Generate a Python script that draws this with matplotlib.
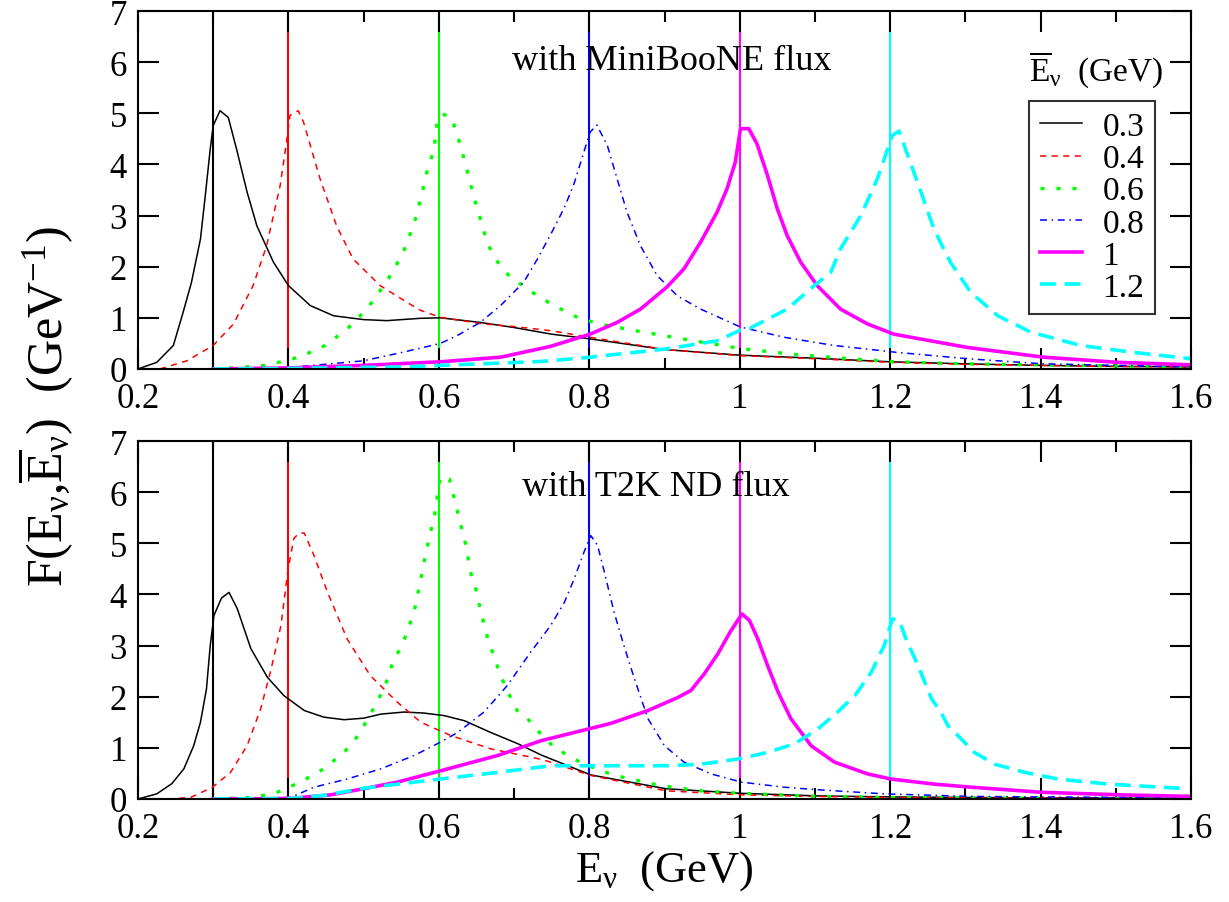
import numpy as np
import matplotlib
matplotlib.use('Agg')
import matplotlib.pyplot as plt
from matplotlib.ticker import MultipleLocator, FormatStrFormatter

plt.rcParams['font.family'] = ['Liberation Serif', 'DejaVu Serif']
plt.rcParams['mathtext.fontset'] = 'custom'
plt.rcParams['mathtext.rm'] = 'Liberation Serif'
plt.rcParams['mathtext.it'] = 'Liberation Serif:italic'

# mean energies (GeV) and legend labels
ebar = [0.3, 0.4, 0.6, 0.8, 1.0, 1.2]
labels = ['0.3', '0.4', '0.6', '0.8', '1', '1.2']

# ---- MiniBooNE flux (top panel) ----
mb_e03 = [0.20, 0.225, 0.247, 0.260, 0.271, 0.283, 0.289, 0.296, 0.300, 0.309, 0.320, 0.331, 0.345, 0.358, 0.380,
          0.400, 0.429, 0.460, 0.500, 0.531, 0.575, 0.602, 0.655, 0.700, 0.750, 0.800, 0.900, 1.000, 1.100, 1.200,
          1.300, 1.400, 1.500, 1.600]
mb_f03 = [0.00, 0.13, 0.46, 1.11, 1.69, 2.54, 3.33, 4.30, 4.76, 5.05, 4.92, 4.30, 3.46, 2.80, 2.09,
          1.63, 1.24, 1.04, 0.965, 0.945, 0.99, 1.00, 0.91, 0.81, 0.68, 0.59, 0.38, 0.27, 0.21, 0.14,
          0.10, 0.07, 0.05, 0.04]

mb_e04 = [0.229, 0.265, 0.300, 0.327, 0.353, 0.371, 0.389, 0.398, 0.402, 0.413, 0.420, 0.442, 0.464, 0.486, 0.522,
          0.558, 0.575, 0.602, 0.659, 0.700, 0.748, 0.801, 0.901, 1.00, 1.10, 1.20, 1.30, 1.40, 1.50, 1.60]
mb_f04 = [0.00, 0.16, 0.46, 0.88, 1.63, 2.41, 3.59, 4.50, 4.96, 5.05, 4.83, 3.72, 2.80, 2.15, 1.63,
          1.30, 1.15, 1.01, 0.88, 0.83, 0.75, 0.62, 0.38, 0.26, 0.20, 0.13, 0.09, 0.07, 0.05, 0.04]

mb_e06 = [0.300, 0.336, 0.369, 0.402, 0.419, 0.449, 0.478, 0.502, 0.513, 0.533, 0.551, 0.558, 0.569, 0.578, 0.586,
          0.593, 0.597, 0.604, 0.617, 0.628, 0.637, 0.646, 0.655, 0.664, 0.675, 0.695, 0.715, 0.731, 0.753, 0.788,
          0.824, 0.872, 0.939, 1.001, 1.068, 1.121, 1.147, 1.205, 1.303, 1.40, 1.50, 1.60]
mb_f06 = [0.00, 0.03, 0.07, 0.18, 0.26, 0.46, 0.78, 1.14, 1.34, 1.77, 2.23, 2.48, 2.94, 3.46, 3.98,
          4.24, 4.76, 4.99, 4.92, 4.40, 3.91, 3.39, 2.94, 2.48, 2.15, 1.79, 1.60, 1.43, 1.24, 0.98,
          0.85, 0.72, 0.55, 0.40, 0.29, 0.23, 0.20, 0.14, 0.10, 0.08, 0.06, 0.05]

mb_e08 = [0.300, 0.400, 0.433, 0.500, 0.553, 0.602, 0.624, 0.655, 0.682, 0.713, 0.731, 0.750, 0.766, 0.779, 0.790,
          0.801, 0.810, 0.824, 0.837, 0.850, 0.868, 0.890, 0.917, 0.948, 1.001, 1.059, 1.125, 1.205, 1.303, 1.404,
          1.502, 1.600]
mb_f08 = [0.00, 0.03, 0.07, 0.16, 0.33, 0.50, 0.65, 0.91, 1.24, 1.70, 2.15, 2.67, 3.13, 3.59, 4.11,
          4.63, 4.77, 4.37, 3.72, 3.07, 2.41, 1.83, 1.43, 1.17, 0.82, 0.62, 0.46, 0.33, 0.20, 0.10,
          0.07, 0.04]

mb_e10 = [0.300, 0.400, 0.500, 0.602, 0.682, 0.748, 0.801, 0.837, 0.868, 0.903, 0.926, 0.948, 0.970, 0.983, 0.994,
          1.001, 1.012, 1.023, 1.037, 1.050, 1.063, 1.081, 1.103, 1.134, 1.170, 1.205, 1.303, 1.404, 1.502, 1.600]
mb_f10 = [0.00, 0.02, 0.07, 0.14, 0.23, 0.44, 0.68, 0.91, 1.17, 1.60, 1.96, 2.48, 3.07, 3.52, 4.04,
          4.70, 4.70, 4.40, 3.78, 3.13, 2.61, 2.09, 1.63, 1.17, 0.88, 0.68, 0.42, 0.23, 0.13, 0.08]

mb_e12 = [0.300, 0.400, 0.500, 0.553, 0.602, 0.726, 0.748, 0.801, 0.901, 0.970, 1.001, 1.014, 1.063, 1.099, 1.121,
          1.134, 1.161, 1.183, 1.203, 1.212, 1.225, 1.241, 1.258, 1.280, 1.307, 1.343, 1.387, 1.453, 1.520, 1.600]
mb_f12 = [0.00, 0.01, 0.03, 0.04, 0.07, 0.14, 0.16, 0.23, 0.39, 0.55, 0.76, 0.80, 1.17, 1.63, 1.89,
          2.35, 3.00, 3.72, 4.57, 4.65, 4.11, 3.46, 2.74, 2.09, 1.50, 1.04, 0.72, 0.46, 0.33, 0.20]

# ---- T2K ND flux (bottom panel) ----
t2k_e03 = [0.200, 0.225, 0.245, 0.261, 0.274, 0.283, 0.291, 0.296, 0.301, 0.311, 0.321, 0.332, 0.350, 0.372, 0.394,
           0.421, 0.447, 0.474, 0.500, 0.523, 0.554, 0.580, 0.607, 0.634, 0.669, 0.705, 0.736, 0.802, 0.902, 1.002,
           1.104, 1.20, 1.30, 1.40, 1.50, 1.60]
t2k_f03 = [0.00, 0.10, 0.30, 0.59, 1.04, 1.50, 2.15, 3.00, 3.59, 3.93, 4.04, 3.72, 2.94, 2.38, 2.02,
           1.73, 1.60, 1.55, 1.58, 1.66, 1.70, 1.68, 1.63, 1.53, 1.30, 1.08, 0.86, 0.47, 0.20, 0.11,
           0.06, 0.04, 0.03, 0.02, 0.02, 0.01]

t2k_e04 = [0.239, 0.270, 0.299, 0.323, 0.345, 0.363, 0.376, 0.390, 0.399, 0.407, 0.414, 0.421, 0.434, 0.452, 0.478,
           0.509, 0.545, 0.576, 0.616, 0.669, 0.722, 0.740, 0.802, 0.902, 1.002, 1.10, 1.20, 1.30, 1.40, 1.50, 1.60]
t2k_f04 = [0.00, 0.03, 0.23, 0.52, 1.04, 1.76, 2.48, 3.39, 4.44, 5.09, 5.20, 5.20, 4.76, 4.04, 3.13,
           2.41, 1.89, 1.50, 1.24, 0.98, 0.82, 0.76, 0.46, 0.16, 0.08, 0.05, 0.03, 0.02, 0.02, 0.01, 0.01]

t2k_e06 = [0.300, 0.354, 0.385, 0.416, 0.447, 0.474, 0.496, 0.505, 0.518, 0.532, 0.540, 0.549, 0.556, 0.567, 0.576,
           0.585, 0.594, 0.602, 0.614, 0.627, 0.636, 0.642, 0.649, 0.656, 0.665, 0.673, 0.682, 0.696, 0.705, 0.718,
           0.729, 0.740, 0.753, 0.784, 0.815, 0.846, 0.895, 0.948, 1.002, 1.104, 1.20, 1.30, 1.40, 1.50, 1.60]
t2k_f06 = [0.00, 0.03, 0.13, 0.33, 0.59, 0.91, 1.30, 1.57, 1.89, 2.35, 2.74, 2.94, 3.20, 3.65, 4.31,
           4.96, 5.54, 6.30, 6.26, 5.48, 4.96, 4.44, 4.11, 3.65, 3.13, 2.80, 2.41, 1.96, 1.70, 1.57,
           1.37, 1.21, 1.01, 0.75, 0.55, 0.42, 0.26, 0.16, 0.11, 0.05, 0.03, 0.02, 0.02, 0.01, 0.01]

t2k_e08 = [0.300, 0.403, 0.434, 0.478, 0.523, 0.567, 0.602, 0.625, 0.660, 0.691, 0.722, 0.749, 0.767, 0.780, 0.793,
           0.802, 0.811, 0.820, 0.833, 0.846, 0.860, 0.878, 0.900, 0.926, 0.962, 1.002, 1.059, 1.104, 1.192, 1.308,
           1.40, 1.50, 1.60]
t2k_f08 = [0.00, 0.03, 0.23, 0.39, 0.59, 0.85, 1.11, 1.30, 1.70, 2.22, 2.87, 3.40, 3.85, 4.31, 4.83,
           5.15, 4.96, 4.44, 3.65, 3.00, 2.35, 1.57, 1.04, 0.72, 0.49, 0.33, 0.23, 0.18, 0.10, 0.05,
           0.04, 0.03, 0.03]

t2k_e10 = [0.300, 0.403, 0.456, 0.500, 0.545, 0.602, 0.678, 0.736, 0.802, 0.829, 0.878, 0.917, 0.935, 0.953, 0.971,
           0.987, 1.003, 1.013, 1.024, 1.037, 1.051, 1.068, 1.095, 1.126, 1.170, 1.201, 1.259, 1.308, 1.402, 1.508,
           1.601]
t2k_f10 = [0.00, 0.01, 0.08, 0.20, 0.33, 0.55, 0.85, 1.14, 1.38, 1.48, 1.73, 1.98, 2.12, 2.45, 2.84,
           3.26, 3.62, 3.49, 3.13, 2.61, 2.09, 1.57, 1.04, 0.72, 0.49, 0.39, 0.29, 0.23, 0.13, 0.08,
           0.05]

t2k_e12 = [0.300, 0.403, 0.447, 0.500, 0.545, 0.602, 0.678, 0.749, 0.838, 0.904, 0.948, 0.997, 1.037, 1.073, 1.104,
           1.130, 1.153, 1.175, 1.192, 1.203, 1.212, 1.221, 1.237, 1.255, 1.268, 1.277, 1.286, 1.312, 1.339, 1.379,
           1.423, 1.490, 1.596]
t2k_f12 = [0.00, 0.01, 0.07, 0.21, 0.29, 0.39, 0.52, 0.65, 0.65, 0.65, 0.68, 0.78, 0.91, 1.08, 1.37,
           1.70, 2.02, 2.48, 3.00, 3.52, 3.49, 3.13, 2.61, 1.96, 1.68, 1.43, 1.30, 0.91, 0.68, 0.52,
           0.39, 0.29, 0.20]

mb_curves = [(mb_e03, mb_f03), (mb_e04, mb_f04), (mb_e06, mb_f06),
             (mb_e08, mb_f08), (mb_e10, mb_f10), (mb_e12, mb_f12)]
t2k_curves = [(t2k_e03, t2k_f03), (t2k_e04, t2k_f04), (t2k_e06, t2k_f06),
              (t2k_e08, t2k_f08), (t2k_e10, t2k_f10), (t2k_e12, t2k_f12)]

colors = ['#000000', '#ff0000', '#00ff00', '#0000ff', '#ff00ff', '#00ffff']
styles = [
    dict(lw=1.1, ls='-'),
    dict(lw=1.1, dashes=(4.0, 3.6)),
    dict(lw=2.4, dashes=(1.2, 3.6), dash_capstyle='butt'),
    dict(lw=1.1, dashes=(4.6, 3.0, 1.0, 3.0)),
    dict(lw=2.6, ls='-'),
    dict(lw=2.6, dashes=(4.4, 2.4)),
]

fig = plt.figure(figsize=(12.29, 9.03), dpi=100)
ax_top = fig.add_axes([0.1123, 0.5903, 0.8568, 0.3964])
ax_bot = fig.add_axes([0.1123, 0.1141, 0.8568, 0.3964])

for ax, curves in [(ax_top, mb_curves), (ax_bot, t2k_curves)]:
    for eb, c in zip(ebar, colors):
        ax.axvline(eb, color=c, lw=1.5, zorder=1)
    for (e, f), c, st, lab in zip(curves, colors, styles, labels):
        ax.plot(e, f, color=c, label=lab, zorder=2, **st)
    ax.set_xlim(0.2, 1.6)
    ax.set_ylim(0, 7)
    ax.xaxis.set_major_locator(MultipleLocator(0.2))
    ax.xaxis.set_minor_locator(MultipleLocator(0.1))
    ax.yaxis.set_major_locator(MultipleLocator(1))
    ax.xaxis.set_major_formatter(FormatStrFormatter('%g'))
    ax.tick_params(which='both', direction='in', top=True, right=True, width=1.5, labelsize=25)
    ax.tick_params(axis='x', which='major', pad=9.5)
    ax.tick_params(axis='y', which='major', pad=8)
    ax.tick_params(which='major', length=15)
    ax.tick_params(which='minor', length=8)
    for sp in ax.spines.values():
        sp.set_linewidth(1.5)

ax_top.text(0.909, 6.03, 'with MiniBooNE flux', fontsize=26, ha='center', va='center')
ax_bot.text(0.889, 6.12, 'with T2K ND flux', fontsize=26, ha='center', va='center')

leg = ax_top.legend(loc='upper left', bbox_to_anchor=(0.846, 0.749), fontsize=24, frameon=True, fancybox=False,
                    handlelength=1.26, handletextpad=0.63, labelspacing=0.05, borderpad=0.32, borderaxespad=0)
leg.get_frame().set_edgecolor('black')
leg.get_frame().set_linewidth(1.5)
ax_top.text(1.474, 5.87, r'$\overline{\mathrm{E}}_{\mathrm{\nu}}$  (GeV)', fontsize=24, ha='center', va='center')

ax_bot.set_xlabel(r'E$_{\mathrm{\nu}}$  (GeV)', fontsize=32, labelpad=2)
fig.text(0.037, 0.55, r'F(E$_{\mathrm{\nu}}$,$\overline{\mathrm{E}}_{\mathrm{\nu}}$)  (GeV$^{\mathrm{-1}}$)',
         fontsize=36, rotation=90, ha='center', va='center')

fig.savefig('out.png', dpi=100)
